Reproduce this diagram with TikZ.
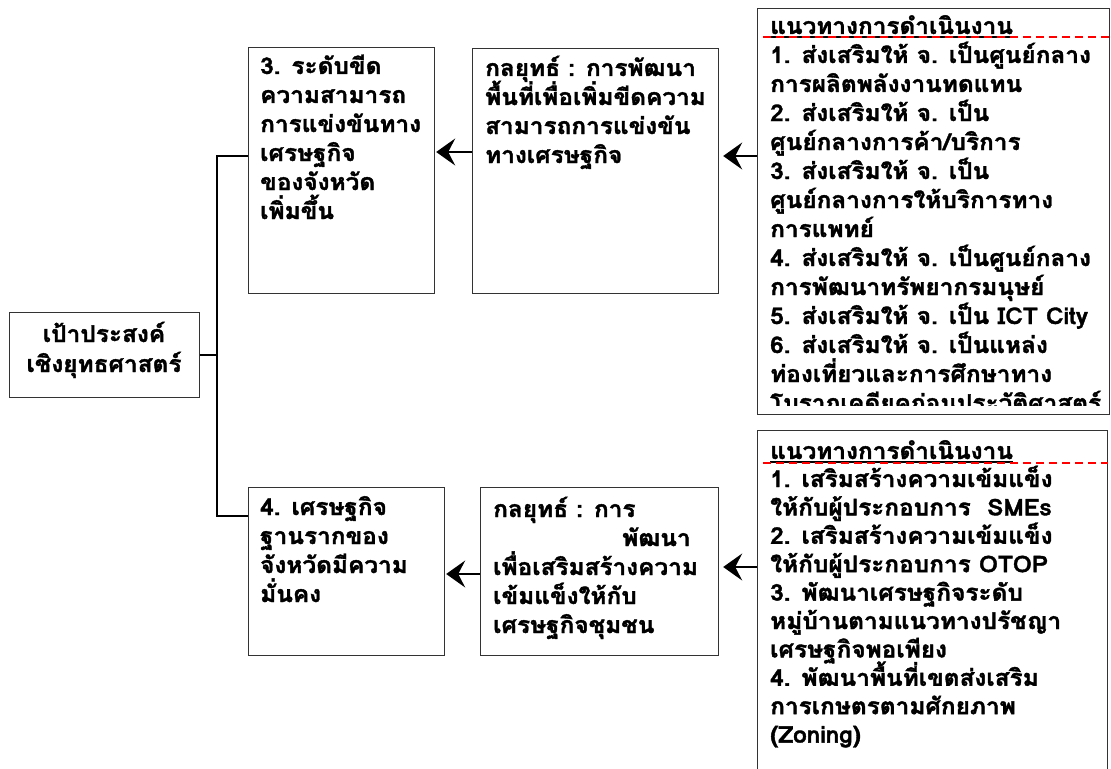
\documentclass[tikz,border=0pt]{standalone}
\usepackage{fontspec}
\setmainfont{Loma}[Script=Thai, BoldFeatures={FakeBold=1.6, FakeStretch=1.06}]
\usetikzlibrary{arrows.meta}
\tikzset{
  box/.style={draw=black!80, line width=1.2bp, rectangle, inner sep=0pt, anchor=north west},
  txt/.style={anchor=base west, inner sep=0pt, align=left},
  conn/.style={draw=black, line width=1.8bp},
  arr/.style={draw=black, line width=1.3bp, -{Stealth[length=19bp,width=27bp,inset=7bp]}},
  reddash/.style={draw=red, line width=1.4bp, dash pattern=on 8bp off 5bp},
  uline/.style={draw=black, line width=1.3bp}
}
\newcommand{\lines}[3][29bp]{\parbox[t]{#2}{\baselineskip=#1\lineskiplimit=-100pt\lineskip=0pt\raggedright #3}}
\begin{document}
\begin{tikzpicture}[x=1bp,y=-1bp, font=\fontsize{23bp}{29bp}\selectfont\bfseries]
\useasboundingbox (0,0) rectangle (1111,769);
\clip (0,0) rectangle (1111,769);
% boxes
\node[box, minimum width=190bp, minimum height=85bp] (goal) at (9,312) {};
\node[box, minimum width=186bp, minimum height=246bp] (b3) at (248,47) {};
\node[box, minimum width=246bp, minimum height=245bp] (s3) at (472,48) {};
\node[box, minimum width=352bp, minimum height=406bp] (r3) at (757,8) {};
\node[box, minimum width=196bp, minimum height=168bp] (b4) at (248,487) {};
\node[box, minimum width=238bp, minimum height=168bp] (s4) at (480,487) {};
\node[box, minimum width=350bp, minimum height=360bp] (r4) at (757,430) {};
% texts
\node[anchor=base, inner sep=0pt, align=center] (goalt) at (104,342) {\lines[30bp]{190bp}{\centering เป้าประสงค์\\เชิงยุทธศาสตร์}};
\node[txt] (b3t) at (260,74) {\lines{180bp}{3. ระดับขีด\\ความสามารถ\\การแข่งขันทาง\\เศรษฐกิจ\\ของจังหวัด\\เพิ่มขึ้น}};
\node[txt] (s3t) at (485,76) {\lines{240bp}{กลยุทธ์ : การพัฒนา\\พื้นที่เพื่อเพิ่มขีดความ\\สามารถการแข่งขัน\\ทางเศรษฐกิจ}};
\node[txt] (b4t) at (260,515) {\lines{180bp}{4. เศรษฐกิจ\\ฐานรากของ\\จังหวัดมีความ\\มั่นคง}};
\node[txt] (s4t) at (493,517) {\lines{240bp}{กลยุทธ์ : การ\\\hspace*{129bp}พัฒนา\\เพื่อเสริมสร้างความ\\เข้มแข็งให้กับ\\เศรษฐกิจชุมชน}};
\begin{scope}
\clip (757,8) rectangle (1109,405);
\node[txt] (h3) at (770,34) {แนวทางการดำเนินงาน};
\node[txt] (r3t) at (770,63) {\lines{345bp}{1. ส่งเสริมให้ จ. เป็นศูนย์กลาง\\การผลิตพลังงานทดแทน\\2. ส่งเสริมให้ จ. เป็น\\ศูนย์กลางการค้า/บริการ\\3. ส่งเสริมให้ จ. เป็น\\ศูนย์กลางการให้บริการทาง\\การแพทย์\\4. ส่งเสริมให้ จ. เป็นศูนย์กลาง\\การพัฒนาทรัพยากรมนุษย์\\5. ส่งเสริมให้ จ. เป็น ICT City\\6. ส่งเสริมให้ จ. เป็นแหล่ง\\ท่องเที่ยวและการศึกษาทาง\\โบราณคดียุคก่อนประวัติศาสตร์}};
\end{scope}
\node[txt] (h4) at (770,459) {แนวทางการดำเนินงาน};
\node[txt] (r4t) at (770,487) {\lines[28.4bp]{345bp}{1. เสริมสร้างความเข้มแข็ง\\ให้กับผู้ประกอบการ ~SMEs\\2. เสริมสร้างความเข้มแข็ง\\ให้กับผู้ประกอบการ OTOP\\3. พัฒนาเศรษฐกิจระดับ\\หมู่บ้านตามแนวทางปรัชญา\\เศรษฐกิจพอเพียง\\4. พัฒนาพื้นที่เขตส่งเสริม\\การเกษตรตามศักยภาพ\\(Zoning)}};
% header underlines and red dashed lines
\draw[uline] ([yshift=-3bp]h3.base west) -- ([yshift=-3bp]h3.base east);
\draw[uline] ([yshift=-3bp]h4.base west) -- ([yshift=-3bp]h4.base east);
\coordinate (d3) at (763,37);
\coordinate (d4) at (763,463);
\draw[reddash] (d3) -- (d3 -| r3.east);
\draw[reddash] (d4) -- (d4 -| r4.east);
% tree connectors
\coordinate (j3) at (217,156);
\coordinate (j4) at (217,516);
\draw[conn] (goal.east) -- (goal.east -| j3);
\draw[conn] (b3.west |- j3) -- (j3) -- (j4) -- (b4.west |- j4);
% arrows
\coordinate (a1) at (0,152);
\coordinate (a2) at (0,156);
\coordinate (a3) at (0,574);
\coordinate (a4) at (0,567);
\draw[arr] (s3.west |- a1) -- ([xshift=1bp]b3.east |- a1);
\draw[arr] (r3.west |- a2) -- ([xshift=4bp]s3.east |- a2);
\draw[arr] (s4.west |- a3) -- ([xshift=1bp]b4.east |- a3);
\draw[arr] (r4.west |- a4) -- ([xshift=4bp]s4.east |- a4);
\end{tikzpicture}
\end{document}
